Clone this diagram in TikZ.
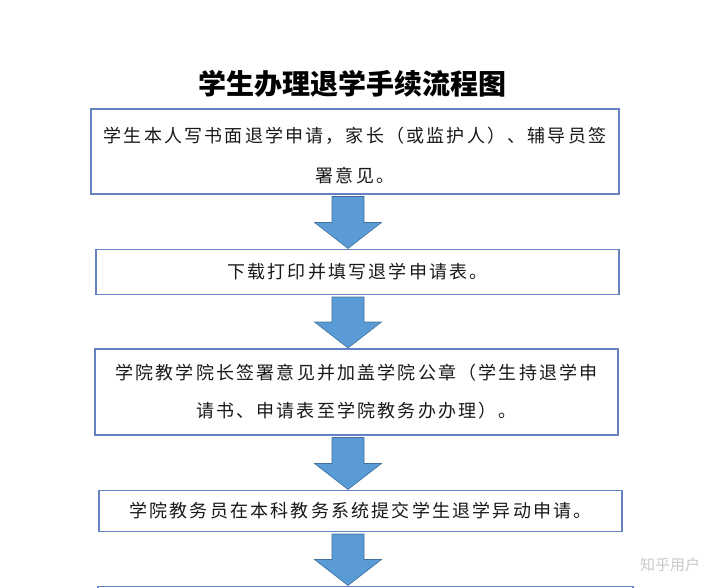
\documentclass[tikz,border=0pt]{standalone}
\usepackage{fontspec}
\newfontfamily\cjk[LetterSpace=12.2]{Noto Sans CJK SC}
\newfontfamily\cjkplain{Noto Sans CJK SC}
\usetikzlibrary{positioning}
\usetikzlibrary{calc}
\definecolor{boxline}{RGB}{100,130,195}
\definecolor{arrowfill}{RGB}{91,155,213}
\definecolor{arrowline}{RGB}{65,113,156}
\definecolor{marktext}{RGB}{200,200,200}

\newcommand{\flowarrow}[2]{%
  \path[fill=arrowfill, draw=arrowline, line width=0.6pt]
    let \p1=($(#1.south -| axis)+(0,2.5)$), \p2=($(#2.north -| axis)+(0,-1)$) in
    (\x1-16pt,\y1) -- (\x1+16pt,\y1) -- (\x1+16pt,\y2+26pt) -- (\x1+33.5pt,\y2+26pt)
    -- (\x2,\y2) -- (\x1-33.5pt,\y2+26pt) -- (\x1-16pt,\y2+26pt) -- cycle;}

\begin{document}
\begin{tikzpicture}[
            x=1pt, y=-1pt,
            title/.style={font=\cjkplain\bfseries\fontsize{28}{30}\selectfont, text=black},
            stepbox/.style={rectangle, draw=boxline, line width=1.2pt, outer sep=0pt, fill=white, inner sep=0pt, align=center, text width=523pt, text=black!90, font=\cjk\fontsize{18}{38}\selectfont},
            node distance=55pt
        ]
        \useasboundingbox (0,0) rectangle (720,588);
        \coordinate (axis) at (348,0);
        \node[title] (heading) at (352,84) {学生办理退学手续流程图};
        \node[stepbox, text width=528pt, minimum height=85pt, font=\cjk\fontsize{18}{40}\selectfont] (write) at (355,151.5) {\rule{0pt}{24pt}学生本人写书面退学申请，家长（或监护人）、辅导员签\\署意见。};
        \node[stepbox, minimum height=45pt, below = 55.5pt of write, xshift=2.5pt] (form) {下载打印并填写退学申请表。};
        \node[stepbox, minimum height=86pt, below = 54.5pt of form, xshift=-1pt] (dean) {学院教学院长签署意见并加盖学院公章（学生持退学申\\请书、申请表至学院教务办办理）。};
        \node[stepbox, minimum height=41pt, below = 55.5pt of dean, xshift=4pt] (submit) {学院教务员在本科教务系统提交学生退学异动申请。};
        \node[stepbox, text width=535pt, minimum height=40pt, below = 55pt of submit, xshift=5pt] (next) {};
        \flowarrow{write}{form}
        \flowarrow{form}{dean}
        \flowarrow{dean}{submit}
        \flowarrow{submit}{next}
        \node[font=\cjkplain\fontsize{15}{15}\selectfont, text=marktext] (watermark) at (670,565) {知乎用户};
        \end{tikzpicture}
\end{document}
